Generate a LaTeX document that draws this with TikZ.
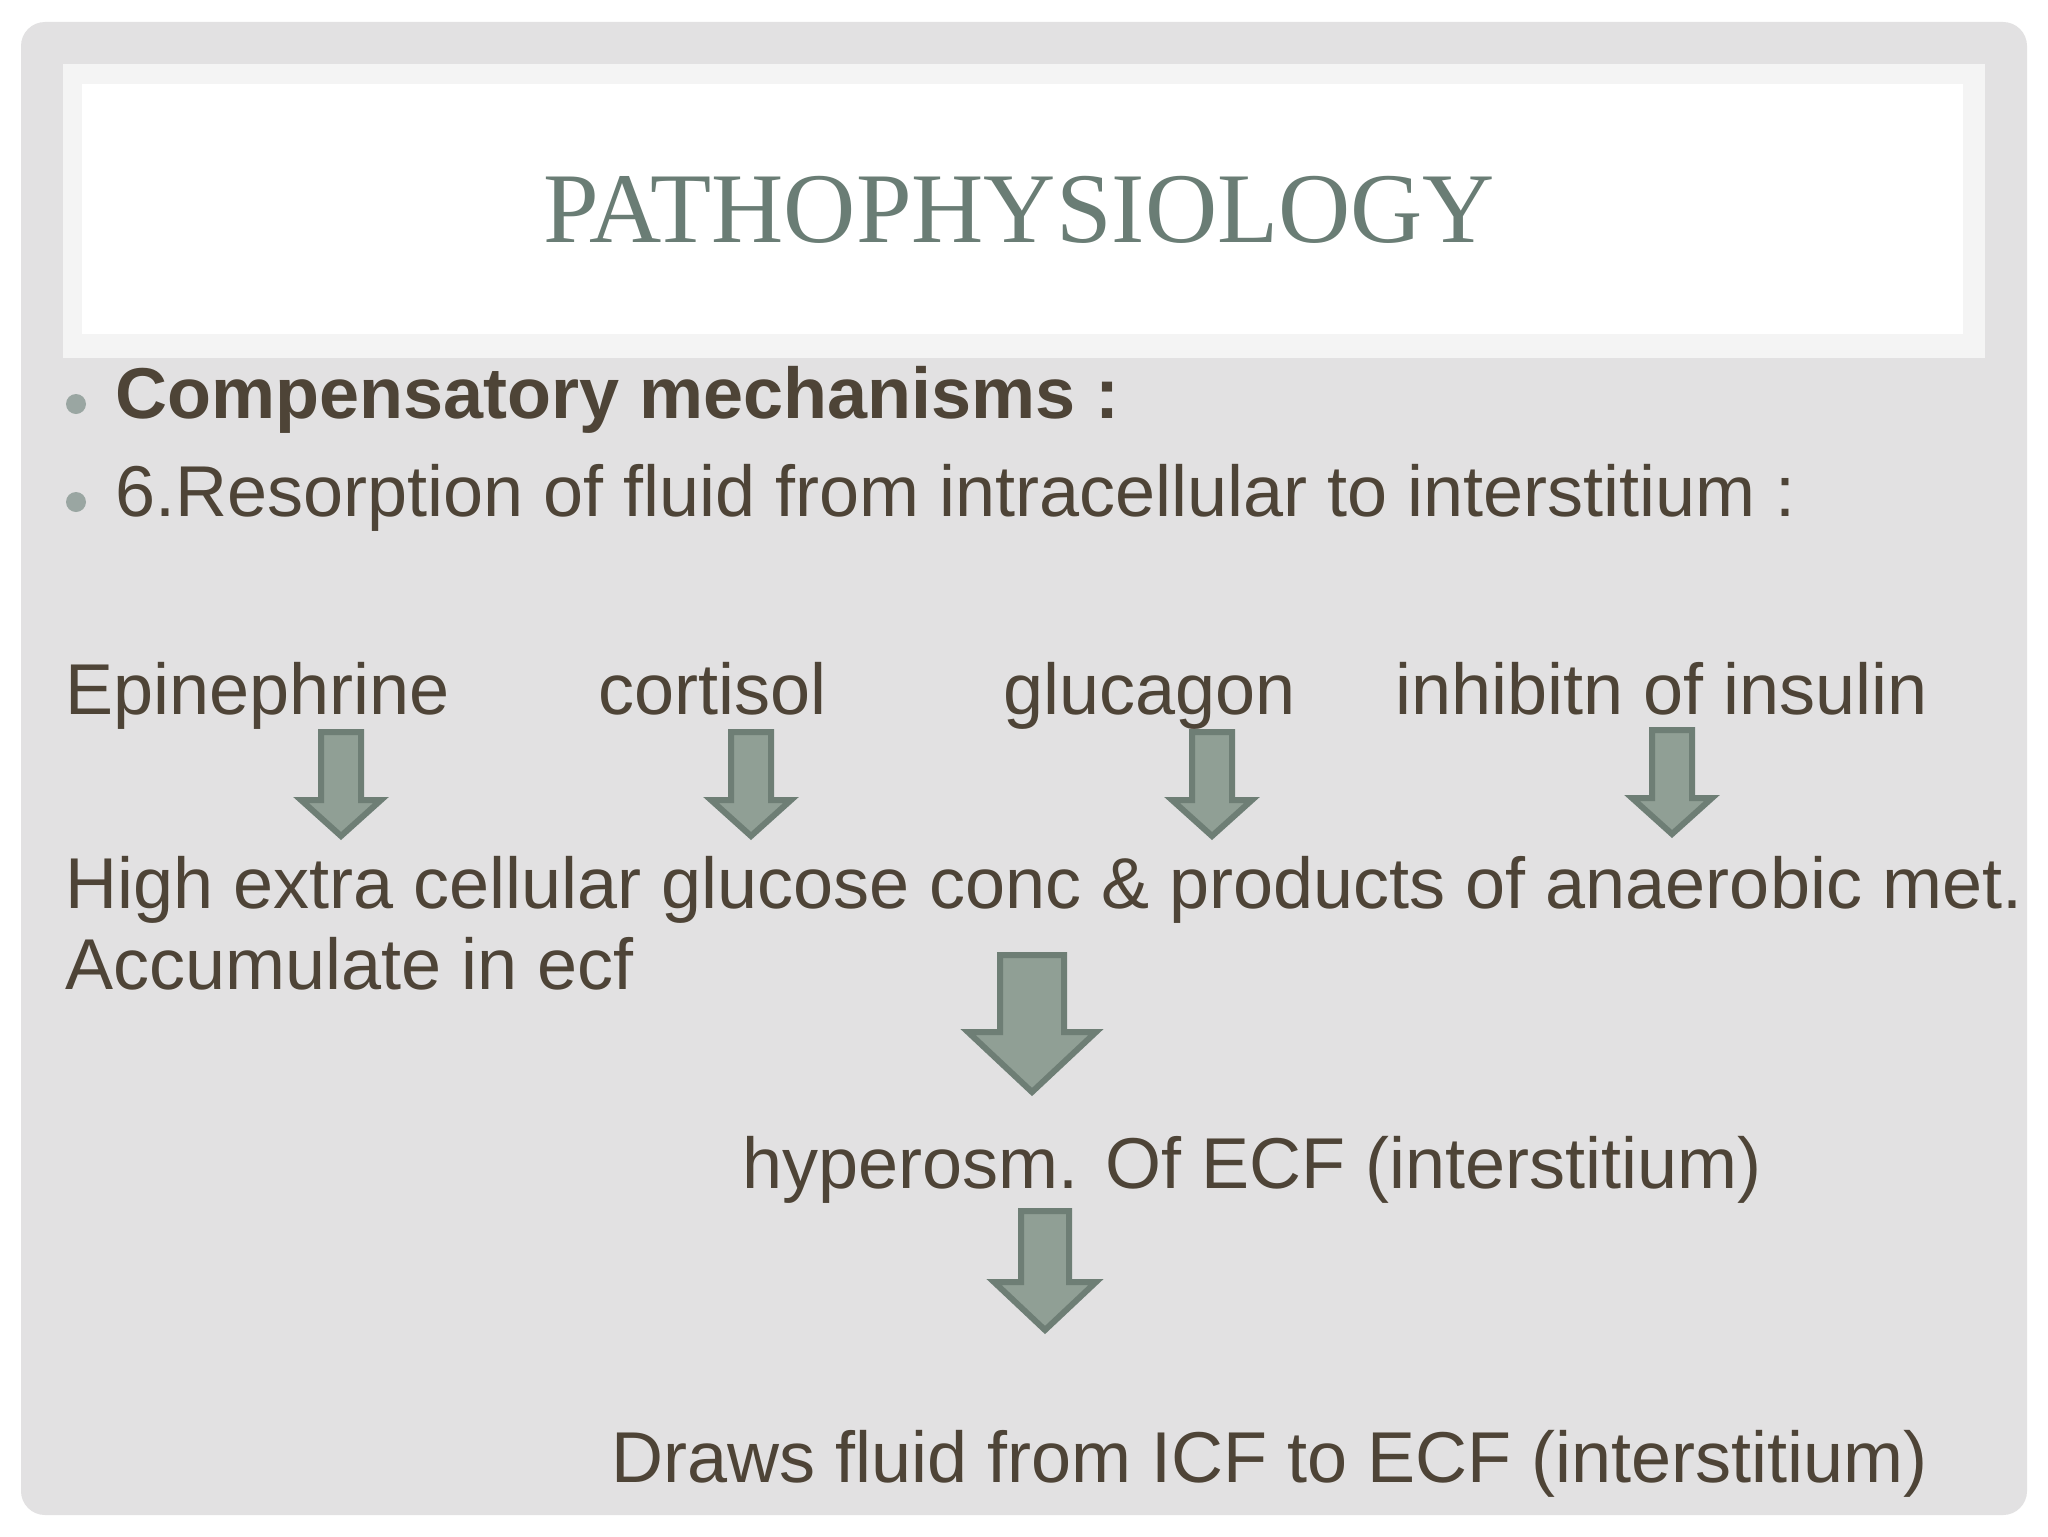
\documentclass[tikz,border=0pt]{standalone}
\usepackage{fontspec}
\setmainfont{Liberation Sans}
\newfontfamily\titlefont{Liberation Serif}
\definecolor{bg}{HTML}{E2E1E2}
\definecolor{band}{HTML}{F4F4F4}
\definecolor{tc}{HTML}{6A7D75}
\definecolor{txt}{HTML}{4E4437}
\definecolor{bul}{HTML}{9AA6A2}
\definecolor{afill}{HTML}{909F95}
\definecolor{aline}{HTML}{6E7E75}
\tikzset{
 body/.style={anchor=base west,inner sep=0pt,text=txt,font=\fontsize{36}{40}\selectfont},
 blockarrow/.style={fill=afill,draw=aline,line width=3pt,line join=miter}
}
\newcommand{\downarrowshape}[6]{% cx, top, headstart, tip, halfshaft, halfhead
 \draw[blockarrow] (#1-#5,#2) -- (#1+#5,#2) -- (#1+#5,#3) -- (#1+#6,#3) -- (#1,#4) -- (#1-#6,#3) -- (#1-#5,#3) -- cycle;}
\begin{document}
\begin{tikzpicture}[x=0.5pt,y=-0.5pt]
\useasboundingbox (0,0) rectangle (2048,1536);
\fill[white] (0,0) rectangle (2048,1536);
\fill[bg,rounded corners=12pt] (21,22) rectangle (2027,1515);
\fill[band] (63,64) rectangle (1985,358);
\fill[white] (82,84) rectangle (1963,334);
\node[anchor=base,inner sep=0pt,text=tc,font=\titlefont\fontsize{50}{54}\selectfont] (title) at (1019,242) {PATHOPHYSIOLOGY};
\fill[bul] (76,404) circle (5pt);
\fill[bul] (76,502) circle (5pt);
\node[body,font=\bfseries\fontsize{36}{40}\selectfont] (b1) at (115,418) {Compensatory mechanisms :};
\node[body] (b2) at (115,516) {6.Resorption of fluid from intracellular to interstitium :};
\node[body] (epi) at (65,714) {Epinephrine};
\node[body] (cor) at (598,714) {cortisol};
\node[body] (glu) at (1003,714) {glucagon};
\node[body] (ins) at (1395,714) {inhibitn of insulin};
\downarrowshape{341}{732}{800}{836}{20}{40}
\downarrowshape{751}{732}{800}{836}{20}{40}
\downarrowshape{1212}{732}{800}{836}{20}{40}
\downarrowshape{1672}{730}{798}{834}{20}{40}
\node[body] (high) at (65,908) {High extra cellular glucose conc \& products of anaerobic met.};
\node[body] (acc) at (65,989) {Accumulate in ecf};
\downarrowshape{1032}{955}{1032}{1092}{32}{64}
\node[body] (hyp) at (742,1188) {hyperosm. Of ECF (interstitium)};
\downarrowshape{1045}{1211}{1282}{1330}{24}{51}
\node[body] (draws) at (611,1482) {Draws fluid from ICF to ECF (interstitium)};
\end{tikzpicture}
\end{document}
